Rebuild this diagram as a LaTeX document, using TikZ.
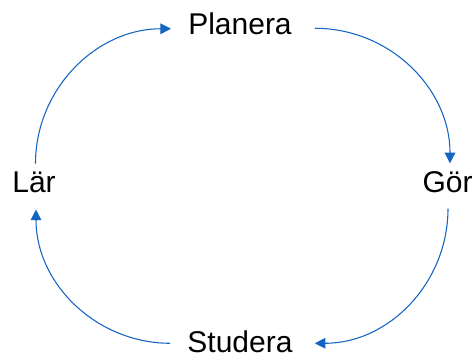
\documentclass[tikz,border=0pt]{standalone}
\usepackage{fontspec}
\setmainfont{Liberation Sans}
\usetikzlibrary{arrows.meta,calc}
\definecolor{cycleblue}{RGB}{20,100,195}
\begin{document}
\begin{tikzpicture}[x=0.75pt,y=-0.75pt,
	word/.style={anchor=base,inner sep=0pt,font=\fontsize{22.5}{27}\selectfont},
	flow/.style={draw=cycleblue,line width=0.8pt,-{Triangle[length=8pt,width=8pt]}}]
	\useasboundingbox (0,0) rectangle (475,359);
	\node[word] (plan) at (240,35) {Planera};
	\node[word] (gor) at (447.5,193) {Gör};
	\node[word] (stud) at (240,353) {Studera};
	\node[word] (lar) at (34,193) {Lär};
	\draw[flow] ($(lar.north)+(1.5,-8.5)$) to[out=90,in=180] ($(plan.west)+(-17,4.5)$);
	\draw[flow] ($(plan.east)+(23,4)$) to[out=0,in=90] ($(gor.north)+(2.5,-8.5)$);
	\draw[flow] ($(gor.south)+(0.5,15)$) to[out=270,in=0] ($(stud.east)+(22,1)$);
	\draw[flow] ($(stud.west)+(-17,1)$) to[out=180,in=270] ($(lar.south)+(2,16)$);
\end{tikzpicture}
\end{document}
